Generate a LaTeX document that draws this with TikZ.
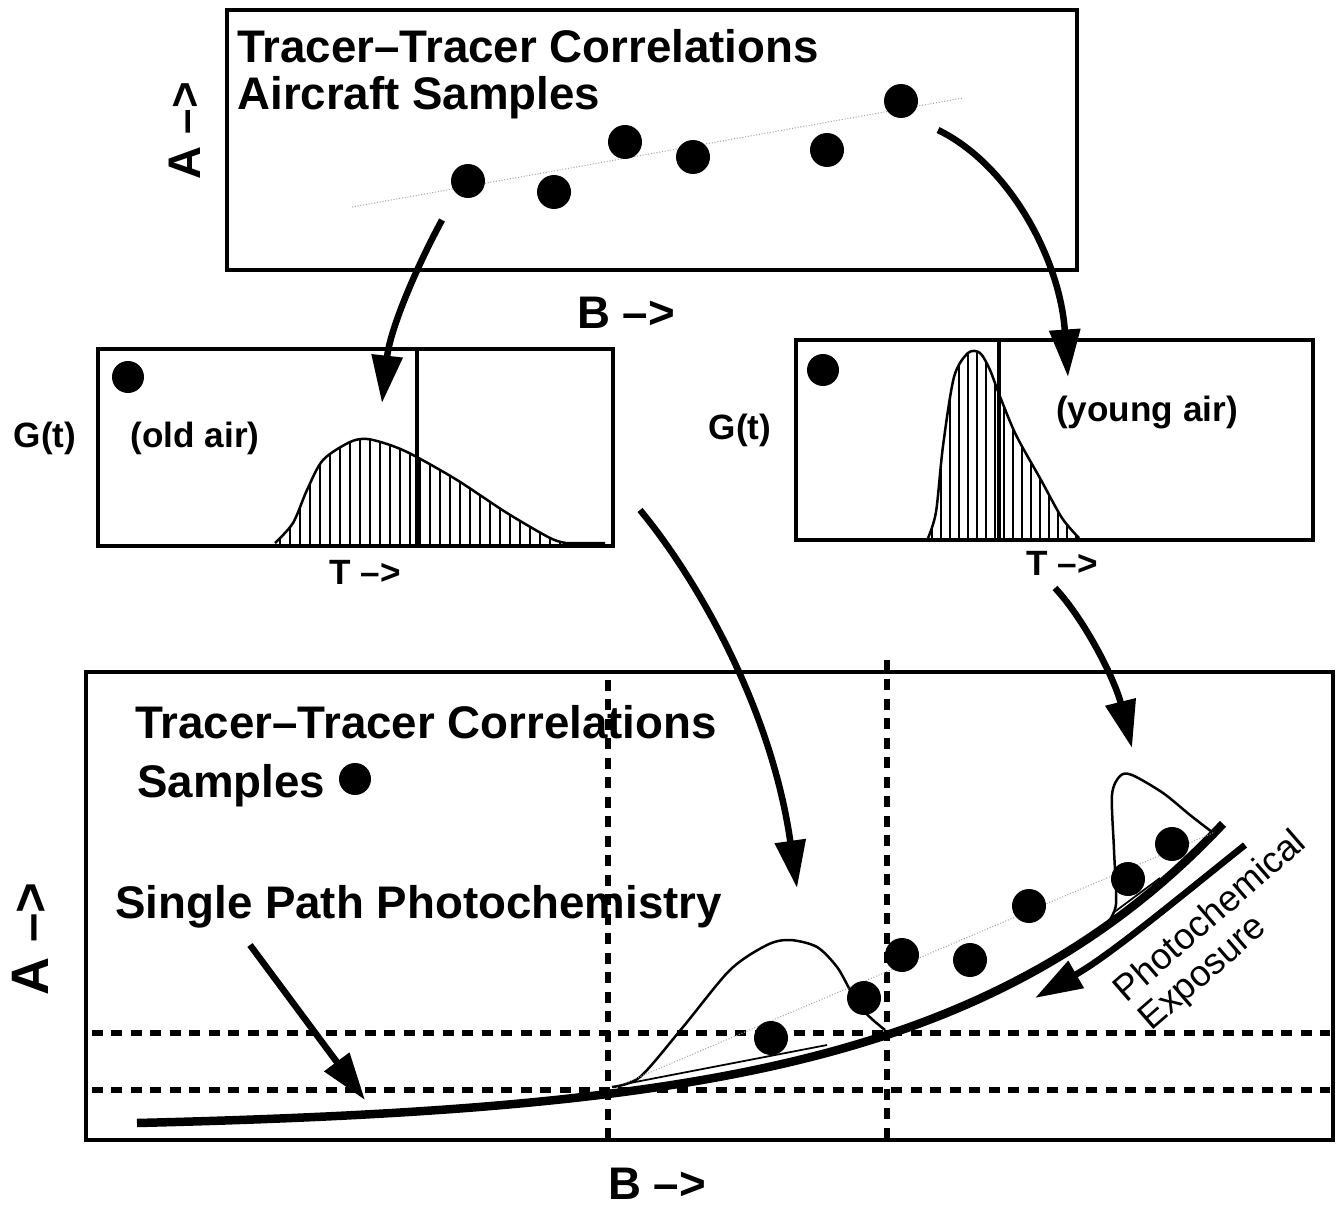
\documentclass[tikz,border=0pt]{standalone}
\usepackage{fontspec}
\setmainfont{Liberation Sans}
\usetikzlibrary{arrows.meta}

\begin{document}
\begin{tikzpicture}[x=0.02cm, y=-0.02cm,
    panel/.style={draw, line width=0.085cm},
    bigarrow/.style={line width=0.13cm, -{Triangle[length=0.95cm,width=0.6cm]}},
    datadot/.style={circle, fill, inner sep=0pt, minimum size=0.64cm},
    guide/.style={line width=0.11cm, dash pattern=on 0.22cm off 0.17cm},
    trend/.style={gray!70, line width=0.6pt, densely dotted},
    bell/.style={line width=0.05cm},
    hatch/.style={line width=0.035cm},
    ttl/.style={font=\bfseries\fontsize{26}{30}\selectfont, inner sep=0pt},
    axlabel/.style={font=\bfseries\fontsize{20}{24}\selectfont, inner sep=0pt}]
  \useasboundingbox (0,0) rectangle (1339,1209);

  % top panel: aircraft samples
  \draw[panel] (227,10) rectangle (1077,270);
  \node[ttl, anchor=base west] (toptitle) at (237,63) {Tracer–Tracer Correlations};
  \node[ttl, anchor=base west] (topsub) at (237,110) {Aircraft Samples};
  \node[ttl, rotate=90] (topA) at (185,131) {A –>};
  \node[ttl] (topB) at (626,313) {B –>};
  \draw[trend] (352,207) -- (963,98);
  \foreach \x/\y [count=\i] in {468/181, 554/192, 625/142, 693/157, 827/150, 901/101}
    \node[datadot, minimum height=0.68cm] (a\i) at (\x,\y) {};

  % old air spectrum
  \draw[panel] (98,349) rectangle (613,546);
  \begin{scope}
    \clip (275,546) -- plot[smooth] coordinates {(275,543) (293,523) (307,490) (323,460) (350,442) (367,439) (390,445) (413,455) (457,480) (507,513) (550,538) (566,543)} -- (566,546) -- cycle;
    \foreach \x in {280,290,...,560}
      \draw[hatch] (\x,546) -- (\x,430);
  \end{scope}
  \draw[bell] plot[smooth] coordinates {(275,543) (293,523) (307,490) (323,460) (350,442) (367,439) (390,445) (413,455) (457,480) (507,513) (550,538) (566,543)} -- (605,543);
  \draw[panel] (417,349) -- (417,546);
  \node[datadot] (oldmark) at (128,377) {};
  \node[axlabel] (gleft) at (45,438) {G(t)};
  \node[axlabel] (oldair) at (195,438) {(old air)};
  \node[axlabel] (tleft) at (365,572) {T –>};

  % young air spectrum
  \draw[panel] (796,340) rectangle (1313,540);
  \begin{scope}
    \clip (928,540) -- plot[smooth] coordinates {(928,538) (936,512) (943,446) (954,377) (968,353) (980,353) (990,370) (999,394) (1016,435) (1041,480) (1062,518) (1079,538)} -- cycle;
    \foreach \x in {932,941,...,1080}
      \draw[hatch] (\x,540) -- (\x,340);
  \end{scope}
  \draw[bell] plot[smooth] coordinates {(928,538) (936,512) (943,446) (954,377) (968,353) (980,353) (990,370) (999,394) (1016,435) (1041,480) (1062,518) (1079,538)};
  \draw[panel] (999,340) -- (999,540);
  \node[datadot] (youngmark) at (823,370) {};
  \node[axlabel] (gright) at (740,430) {G(t)};
  \node[axlabel] (youngair) at (1147,412) {(young air)};
  \node[axlabel] (tright) at (1062,563) {T –>};

  % arrows from samples to spectra
  \coordinate (oldfrom) at (442,220);
  \coordinate (oldto) at (382,403);
  \coordinate (youngfrom) at (938,130);
  \coordinate (youngto) at (1068,377);
  \draw[bigarrow] (oldfrom) .. controls (415,270) and (390,330) .. (oldto);
  \draw[bigarrow] (youngfrom) .. controls (1010,165) and (1060,260) .. (youngto);

  % bottom panel: photochemistry
  \draw[guide] (608,680) -- (608,1140);
  \draw[guide] (887,660) -- (887,1140);
  \draw[guide] (92,1033) -- (1330,1033);
  \draw[guide] (92,1090) -- (1330,1090);
  \draw[panel] (86,672) rectangle (1333,1140);
  \node[ttl, anchor=base west] (bottitle) at (135,738) {Tracer–Tracer Correlations};
  \node[ttl, anchor=base west] (botsub) at (137,797) {Samples};
  \node[datadot] (legenddot) at (355,779) {};
  \node[ttl, anchor=base west] (pathlbl) at (115,918) {Single Path Photochemistry};
  \node[rotate=90, font=\bfseries\fontsize{30}{34}\selectfont, inner sep=0pt] (botA) at (30,939) {A –>};
  \node[ttl] (botB) at (657,1184) {B –>};

  \draw[line width=0.17cm] plot[domain=137:1223, samples=90] (\x, {1130-7*exp(0.003477*(\x-137))});
  \draw[bell] plot[smooth] coordinates {(612,1087) (640,1077) (683,1027) (730,970) (767,945) (790,940) (817,947) (837,967) (850,990) (860,1007) (873,1020) (885,1030)};
  \draw[bell] plot[smooth] coordinates {(1108,922) (1116,904) (1114,850) (1112,795) (1120,776) (1132,775) (1163,793) (1190,815) (1212,832)};
  \draw[line width=0.035cm] (630,1083) -- (827,1045);
  \draw[line width=0.035cm] (1113,913) -- (1160,878);
  \draw[trend] (625,1083) -- (1215,832);
  \foreach \x/\y [count=\i] in {771/1038, 864/998, 902/955, 970/960, 1029/906, 1128/879, 1172/844}
    \node[datadot, minimum height=0.68cm] (b\i) at (\x,\y) {};

  \node[rotate=41, anchor=north west, align=left, font=\fontsize{20.8}{21.6}\selectfont, inner sep=0pt] (photo) at (1109,983) {Photochemical\\Exposure};

  % arrows into the bottom panel
  \coordinate (pathfrom) at (250,945);
  \coordinate (pathto) at (365,1100);
  \coordinate (oldfall) at (640,510);
  \coordinate (oldland) at (797,888);
  \coordinate (youngfall) at (1055,588);
  \coordinate (youngland) at (1132,748);
  \coordinate (expofrom) at (1245,845);
  \coordinate (expoto) at (1035,998);
  \draw[bigarrow] (pathfrom) -- (pathto);
  \draw[bigarrow] (oldfall) .. controls (690,570) and (770,700) .. (oldland);
  \draw[bigarrow] (youngfall) .. controls (1085,620) and (1115,680) .. (youngland);
  \draw[bigarrow] (expofrom) .. controls (1170,905) and (1110,955) .. (expoto);
\end{tikzpicture}
\end{document}
